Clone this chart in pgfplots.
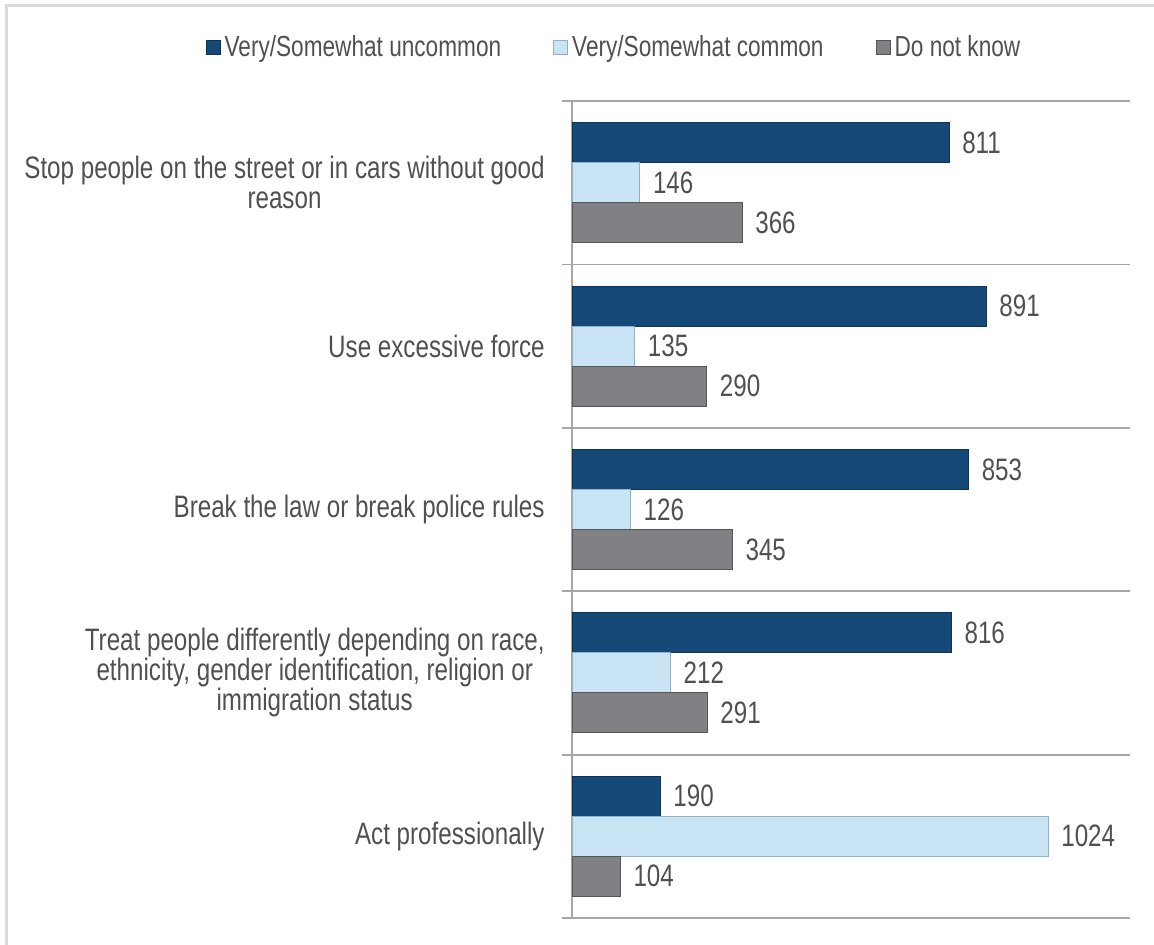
\documentclass[border=0pt]{standalone}
\usepackage{pgfplots}
\pgfplotsset{compat=1.18}
\usepackage{fontspec}
\setmainfont{Liberation Sans}[FakeStretch=0.78]

\definecolor{dkblue}{HTML}{154A78}
\definecolor{dkblueedge}{HTML}{0C3356}
\definecolor{ltblue}{HTML}{C8E4F5}
\definecolor{ltblueedge}{HTML}{8FB0C6}
\definecolor{midgray}{HTML}{808085}
\definecolor{midgrayedge}{HTML}{55555A}
\definecolor{txtgray}{HTML}{505050}
\definecolor{gridgray}{HTML}{A6A6A6}
\definecolor{framegray}{HTML}{D9D9D9}

\begin{document}
\begin{tikzpicture}
\useasboundingbox (0,0) rectangle (577bp,-472.5bp);
% outer frame (only left and top edges visible)
\draw[framegray, line width=1.5bp] (3.25bp,-473bp) -- (3.25bp,-2.75bp) -- (578bp,-2.75bp);

\begin{axis}[
  at={(286bp,-459bp)}, anchor=south west,
  scale only axis, width=279bp, height=408.5bp,
  xbar, bar width=20bp,
  xmin=0, xmax=1200,
  ymin=-0.5, ymax=4.5, y dir=reverse,
  axis x line=none,
  axis y line=left,
  axis line style={draw=gridgray, line width=0.9bp, -},
  xtick=\empty,
  ytick={0,1,2,3,4},
  yticklabels={{Stop people on the street or in cars without good\\reason},
               {Use excessive force},
               {Break the law or break police rules},
               {Treat people differently depending on race,\\ethnicity, gender identification, religion or\\immigration status},
               {Act professionally}},
  major tick length=0pt,
  minor ytick={-0.5,0.5,1.5,2.5,3.5,4.5},
  minor tick length=5bp,
  tick align=outside,
  yminorgrids=true,
  minor grid style={draw=gridgray, line width=0.9bp},
  minor tick style={draw=gridgray, line width=0.9bp},
  yticklabel style={align=center, inner sep=0pt, xshift=-13.5bp,
    font=\fontsize{15.5bp}{15bp}\selectfont, text=txtgray},
  /pgf/number format/assume math mode=true,
  /pgf/number format/1000 sep={},
  nodes near coords,
  nodes near coords align={horizontal},
  every node near coord/.append style={font=\fontsize{15.5bp}{15bp}\selectfont,
    text=txtgray, xshift=3bp},
  legend columns=3,
  legend style={at={(axis description cs:0.077,1.066)}, anchor=center,
    draw=none, fill=none, font=\fontsize{14.5bp}{15bp}\selectfont, text=txtgray,
    /tikz/every even column/.append style={column sep=24bp}},
  legend image code/.code={\draw[#1, line width=0.5bp] (0bp,-3.5bp) rectangle (7bp,3.5bp);},
  clip=false,
]
\addplot[fill=dkblue, draw=dkblueedge, line width=0.5bp, bar shift=20bp]
  coordinates {(811,0) (891,1) (853,2) (816,3) (190,4)};
\addplot[fill=ltblue, draw=ltblueedge, line width=0.5bp, bar shift=0bp]
  coordinates {(146,0) (135,1) (126,2) (212,3) (1024,4)};
\addplot[fill=midgray, draw=midgrayedge, line width=0.5bp, bar shift=-20bp]
  coordinates {(366,0) (290,1) (345,2) (291,3) (104,4)};
\legend{Very/Somewhat uncommon, Very/Somewhat common, Do not know}
\end{axis}
\end{tikzpicture}
\end{document}
